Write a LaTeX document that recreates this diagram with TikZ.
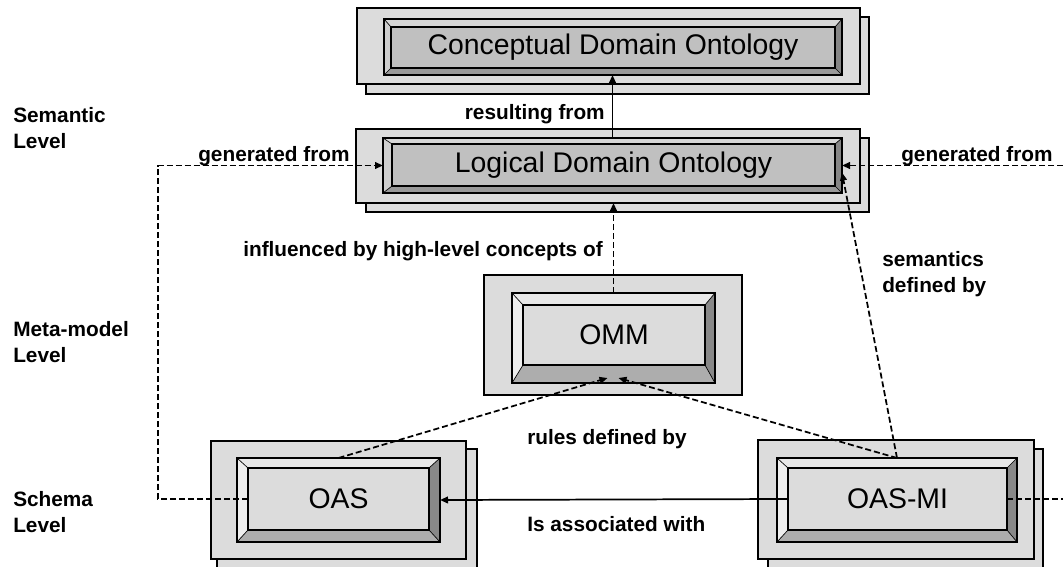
\documentclass[tikz,border=0pt]{standalone}
\usepackage{fontspec}
\setmainfont{Liberation Sans}
\usetikzlibrary{arrows.meta,fit,calc}
\definecolor{boxgray}{HTML}{DCDCDC}
\definecolor{darkface}{HTML}{C0C0C0}
\definecolor{lightface}{HTML}{DCDCDC}
\definecolor{dtop}{HTML}{D6D6D6}
\definecolor{dleft}{HTML}{CECECE}
\definecolor{dbot}{HTML}{999999}
\definecolor{dright}{HTML}{858585}
\definecolor{ltop}{HTML}{E8E8E8}
\definecolor{lleft}{HTML}{EEEEEE}
\definecolor{lbot}{HTML}{ADADAD}
\definecolor{lright}{HTML}{888888}
\newcommand\bevelize[6]{%
  \fill[#3] (#1.north west) -- (#1.north east) -- (#2.north east) -- (#2.north west) -- cycle;
  \fill[#4] (#1.north west) -- (#2.north west) -- (#2.south west) -- (#1.south west) -- cycle;
  \fill[#5] (#1.south west) -- (#2.south west) -- (#2.south east) -- (#1.south east) -- cycle;
  \fill[#6] (#1.north east) -- (#1.south east) -- (#2.south east) -- (#2.north east) -- cycle;
  \draw[line width=0.5pt] (#1.north west) -- (#2.north west) (#1.north east) -- (#2.north east)
        (#1.south west) -- (#2.south west) (#1.south east) -- (#2.south east);
  \draw[line width=0.9pt] (#1.north west) rectangle (#1.south east);
  \draw[line width=1.3pt] (#2.north west) rectangle (#2.south east);
}
\begin{document}
\begin{tikzpicture}[x=0.75pt,y=-0.75pt,
  box/.style={draw=black,line width=1pt,fill=boxgray,inner sep=0pt,outer sep=0pt},
  bev/.style={inner sep=0pt,outer sep=0pt},
  face/.style={inner sep=0pt,outer sep=0pt,font=\fontsize{21.3}{24}\selectfont},
  lbl/.style={font=\bfseries\fontsize{15.6}{19.5}\selectfont,inner sep=0pt,align=left},
  conn/.style={line width=1.3pt},
  dsh/.style={conn,dash pattern=on 4.5pt off 2.25pt},
  tip/.style={-{Triangle[length=6pt,width=5pt]}},
]
\clip (0,0) rectangle (1063,567);
\path[use as bounding box] (0,0) rectangle (1063,567);

% Conceptual Domain Ontology
\node[box,fit={(366,17)(869,94)}] (cdo-s) {};
\node[box,fit={(357,8)(860,84)}] (cdo-o) {};
\node[bev,fit={(384,19)(842,75)}] (cdo-b) {};
\node[face,fill=darkface,fit={(391,27)(835,68)}] (cdo) {};
\bevelize{cdo-b}{cdo}{dtop}{dleft}{dbot}{dright}
\node[face] at (cdo.center) {Conceptual Domain Ontology};

% Logical Domain Ontology
\node[box,fit={(366,138)(869,212)}] (ldo-s) {};
\node[box,fit={(356,129)(860,203)}] (ldo-o) {};
\node[bev,fit={(383,138)(842,193)}] (ldo-b) {};
\node[face,fill=darkface,fit={(392,144)(835,186)}] (ldo) {};
\bevelize{ldo-b}{ldo}{dtop}{dleft}{dbot}{dright}
\node[face] at (ldo.center) {Logical Domain Ontology};

% OMM
\node[box,fit={(484,275)(742,395)}] (omm-o) {};
\node[bev,fit={(512,293)(715,383)}] (omm-b) {};
\node[face,fill=lightface,fit={(523,305)(705,365)}] (omm) {};
\bevelize{omm-b}{omm}{ltop}{lleft}{lbot}{lright}
\node[face] at (omm.center) {OMM};

% OAS
\node[box,fit={(217,449)(477,575)}] (oas-s) {};
\node[box,fit={(211,441)(466,559)}] (oas-o) {};
\node[bev,fit={(237,458)(440,542)}] (oas-b) {};
\node[face,fill=lightface,fit={(248,468)(429,530)}] (oas) {};
\bevelize{oas-b}{oas}{ltop}{lleft}{lbot}{lright}
\node[face] at (oas.center) {OAS};

% OAS-MI
\node[box,fit={(768,449)(1043,575)}] (oasmi-s) {};
\node[box,fit={(758,440)(1034,559)}] (oasmi-o) {};
\node[bev,fit={(777,458)(1017,542)}] (oasmi-b) {};
\node[face,fill=lightface,fit={(788,468)(1007,530)}] (oasmi) {};
\bevelize{oasmi-b}{oasmi}{ltop}{lleft}{lbot}{lright}
\node[face] at (oasmi.center) {OAS-MI};

% free ends
\coordinate (lc) at (158,499);
\coordinate (rc) at (1063,165.5);
\coordinate (rc2) at (1063,499);

% connectors
\draw[conn,tip] (ldo-b.north) -- (ldo-b.north |- cdo-b.south);
\draw[dsh,tip] (omm-b.north) -- (omm-b.north |- ldo-o.south);
\draw[dsh,tip] (oas.west) -- (lc) |- (ldo-b.west);
\draw[dsh,tip] (rc) -- (ldo-b.east);
\draw[dsh] (oasmi.east) -- (rc2);
\draw[conn,tip] (oasmi.west) -- (oas-b.east);
\draw[dsh,tip] (oas-b.north) -- ($(omm-b.south)+(-6,-5)$);
\draw[dsh,tip] (oasmi-b.north) -- ($(omm-b.south)+(5,-5)$);
\draw[dsh,tip] (oasmi-b.north) -- ($(ldo-b.east)+(0,7)$);

% level labels (anchor at baseline of the last line)
\node[lbl,anchor=base west] (l1) at (13,148) {Semantic\\Level};
\node[lbl,anchor=base west] (l2) at (13,362) {Meta-model\\Level};
\node[lbl,anchor=base west] (l3) at (13,532) {Schema\\Level};

% edge labels
\node[lbl,anchor=base east] (t1) at (605,119) {resulting from};
\node[lbl,anchor=base west] (t2) at (198,161) {generated from};
\node[lbl,anchor=base west] (t3) at (901,161) {generated from};
\node[lbl,anchor=base west] (t4) at (243,256) {influenced by high-level concepts of};
\node[lbl,anchor=base west] (t5) at (882,292) {semantics\\defined by};
\node[lbl,anchor=base west] (t6) at (527,444) {rules defined by};
\node[lbl,anchor=base west] (t7) at (527,531) {Is associated with};
\end{tikzpicture}
\end{document}
